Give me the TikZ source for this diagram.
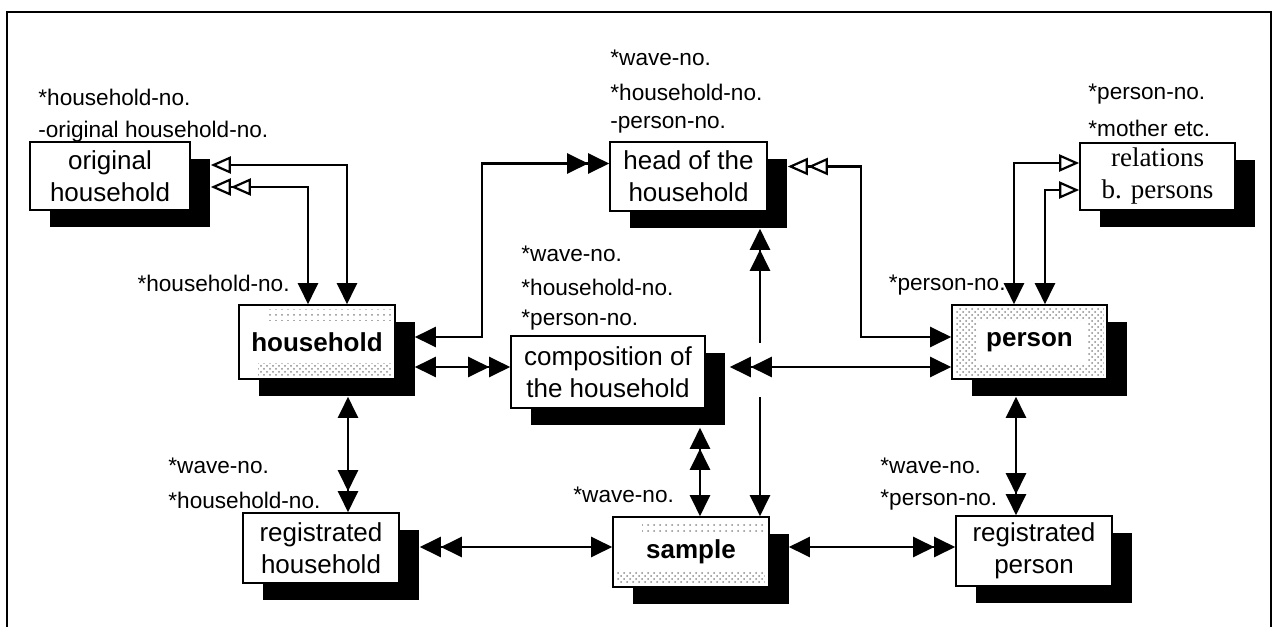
\documentclass[tikz,border=0pt]{standalone}
\usepackage{fontspec}
\setmainfont{Liberation Sans}
\newfontfamily\relfont{Liberation Serif}
\usetikzlibrary{arrows.meta,calc,shadows,patterns}
\tikzset{
  fT/.tip={Triangle[length=10.5pt,width=10pt]},
  oT/.tip={Triangle[open,length=10pt,width=8.5pt,fill=white]},
  ebox/.style={draw=black, line width=0.8pt, fill=white, inner sep=0pt, align=center,
    font=\fontsize{13}{16}\selectfont,
    drop shadow={shadow xshift=9.75pt, shadow yshift=-8.5pt, fill=black, opacity=1}},
  lbl/.style={anchor=west, inner sep=0pt, font=\fontsize{11.3}{13}\selectfont},
  conn/.style={line width=1.1pt},
  sparse/.style={pattern=dots, pattern color=black!45},
  dense/.style={pattern=crosshatch dots, pattern color=black!45},
}
\begin{document}
\begin{tikzpicture}[x=0.5pt,y=-0.5pt]
\useasboundingbox (0,0) rectangle (1276,627);
% frame
\draw[line width=0.6pt] (7,627) -- (7,12) -- (1271,12) -- (1271,627);

% boxes
\node[ebox, minimum width=80pt, minimum height=34pt] (orig) at (110,176) {original\\household};
\node[ebox, minimum width=78.5pt, minimum height=34.5pt] (head) at (688.5,176.5) {head of the\\household};
\node[ebox, minimum width=77.5pt, minimum height=33.5pt, font=\relfont\fontsize{13.5}{16}\selectfont] (rel) at (1157.5,176.5) {relations\\b. persons};
\node[ebox, minimum width=78pt, minimum height=37pt, font=\bfseries\fontsize{13}{16}\selectfont] (hh) at (317,342) {household};
\node[ebox, minimum width=97pt, minimum height=36pt] (comp) at (608,372) {composition of\\the household};
\node[ebox, minimum width=77.5pt, minimum height=37pt, font=\bfseries\fontsize{13}{16}\selectfont] (person) at (1029.5,342) {person};
\node[ebox, minimum width=78pt, minimum height=35pt] (reghh) at (321,548) {registrated\\household};
\node[ebox, minimum width=78pt, minimum height=35pt, font=\bfseries\fontsize{13}{16}\selectfont] (sample) at (691,552) {sample};
\node[ebox, minimum width=78pt, minimum height=35pt] (regp) at (1034,551) {registrated\\person};

% stipple
\fill[sparse] ($(hh.north west)+(30,5)$) rectangle ($(hh.north east)+(-5,16)$);
\fill[dense] ($(hh.south west)+(20,-16)$) rectangle ($(hh.south east)+(-5,-4)$);
\fill[sparse] ($(sample.north west)+(30,5)$) rectangle ($(sample.north east)+(-5,15)$);
\fill[dense] ($(sample.south west)+(5,-16)$) rectangle ($(sample.south east)+(-5,-4)$);
\fill[dense, even odd rule] ($(person.north west)+(4,4)$) rectangle ($(person.south east)+(-4,-4)$)
   ($(person.north west)+(26,16)$) rectangle ($(person.south east)+(-20,-16)$);
\node[font=\bfseries\fontsize{13}{16}\selectfont, inner sep=0pt, fill=white] at (person) {person};

% labels
\node[lbl] (l1) at (38,97) {*household-no.};
\node[lbl] (l2) at (38,132) {-original household-no.};
\node[lbl] (l3) at (610,58) {*wave-no.};
\node[lbl] (l4) at (610,92) {*household-no.};
\node[lbl] (l5) at (610,125) {-person-no.};
\node[lbl] (l6) at (1088,94) {*person-no.};
\node[lbl] (l7) at (1088,128) {*mother etc.};
\node[lbl, anchor=east] (l8) at (290,283) {*household-no.};
\node[lbl] (l9) at (521,254) {*wave-no.};
\node[lbl] (l10) at (521,287) {*household-no.};
\node[lbl] (l11) at (521,320) {*person-no.};
\node[lbl, anchor=east] (l12) at (1006,285) {*person-no.};
\node[lbl] (l13) at (168,466) {*wave-no.};
\node[lbl] (l14) at (168,500) {*household-no.};
\node[lbl] (l15) at (573,495) {*wave-no.};
\node[lbl] (l16) at (880,466) {*wave-no.};
\node[lbl] (l17) at (880,500) {*person-no.};

% connectors
\draw[conn,{oT}-{fT}] ($(orig.east)+(20,-11)$) -| ($(hh.north)+(30,0)$);
\draw[conn,{oT[]oT[]}-{fT}] ($(orig.east)+(20,11)$) -| ($(hh.north)+(-9,0)$);
\draw[conn,{fT}-{fT[]fT[]}] ($(hh.east)+(19,-5)$) -| ($(head.west)+(-127,-13)$) -- ($(head.west)+(0,-13)$);
\draw[conn,{fT}-{fT[]fT[]}] ($(hh.east)+(19,25)$) -- ($(comp.west)+(0,-5)$);
\draw[conn,{oT[]oT[]}-{fT}] ($(head.east)+(20,-10)$) -- ++(73,0) |- ($(person.west)+(0,-5)$);
\coordinate (gapA) at (760,343);
\coordinate (gapB) at (760,397);
\draw[conn,{fT[]fT[]}-] ($(head.south)+(71.5,17)$) -- (gapA);
\draw[conn,-{fT}] (gapB) -- ($(sample.north)+(69,0)$);
\draw[conn,{fT[]fT[]}-{fT}] ($(comp.east)+(24,-5)$) -- ($(person.west)+(0,25)$);
\draw[conn,{fT[]fT[]}-{fT}] ($(comp.south)+(92,19)$) -- ($(sample.north)+(9,0)$);
\draw[conn,{fT}-{fT[]fT[]}] ($(hh.south)+(31,17)$) -- ($(reghh.north)+(27,0)$);
\draw[conn,{fT[]fT[]}-{fT}] ($(reghh.east)+(20,-1)$) -- ($(sample.west)+(0,-5)$);
\draw[conn,{fT}-{fT[]fT[]}] ($(sample.east)+(19,-5)$) -- ($(regp.west)+(0,-4)$);
\draw[conn,{fT}-{fT[]fT[]}] ($(person.south)+(-13.5,17)$) -- ($(regp.north)+(-18,0)$);
\draw[conn,{fT}-{oT}] ($(person.north)+(-15.5,0)$) |- ($(rel.west)+(0,-13.5)$);
\draw[conn,{fT}-{oT}] ($(person.north)+(15.5,0)$) |- ($(rel.west)+(0,13.5)$);
\end{tikzpicture}
\end{document}
